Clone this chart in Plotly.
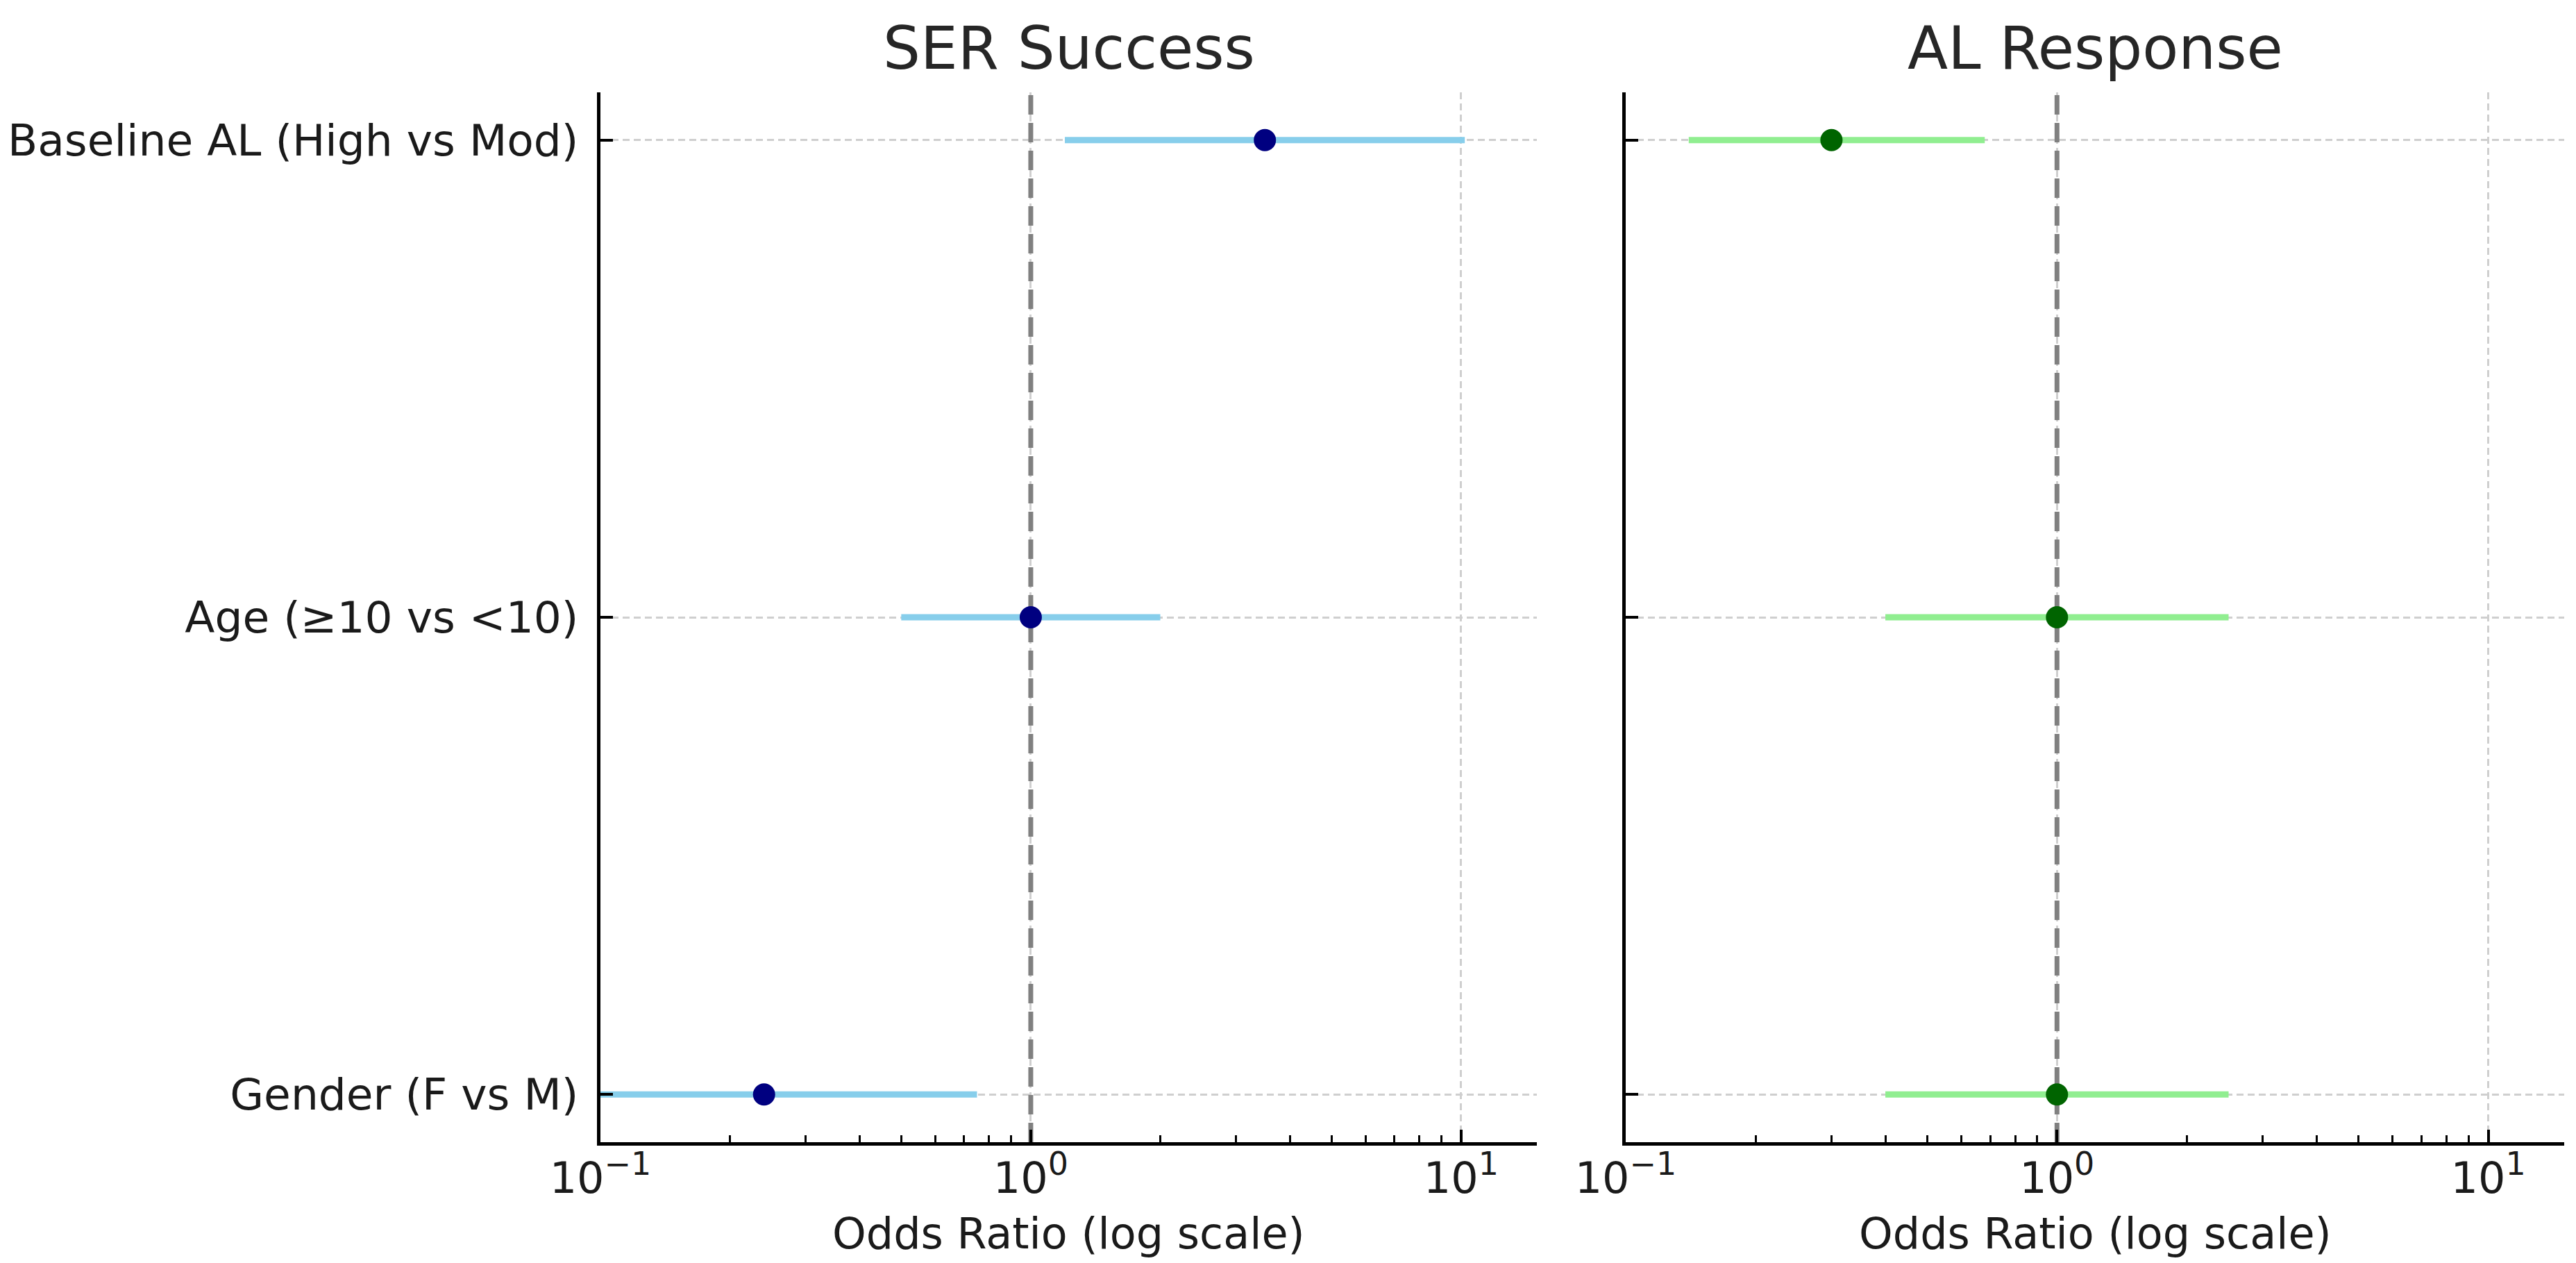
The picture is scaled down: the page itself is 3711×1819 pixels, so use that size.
import math
import plotly.graph_objects as go

# ---------------- data ----------------
categories = ["Gender (F vs M)", "Age (≥10 vs <10)", "Baseline AL (High vs Mod)"]

ser_or = [0.24, 1.0, 3.5]
ser_lo = [0.08, 0.5, 1.2]
ser_hi = [0.75, 2.0, 10.2]

al_or = [1.0, 1.0, 0.3]
al_lo = [0.4, 0.4, 0.14]
al_hi = [2.5, 2.5, 0.68]

panel_titles = ["SER Success", "AL Response"]
x_label = "Odds Ratio (log scale)"
major_ticks = [0.1, 1, 10]
major_exponents = ["−1", "0", "1"]
x_limits = [0.1, 15]
ref_value = 1.0

# ---------------- style ----------------
W, H = 3711, 1819
FONT = "DejaVu Sans"
TXT = "#1a1a1a"
dom1 = [857 / W, 2206 / W]
dom2 = [2334 / W, 3686 / W]
ydom = [182 / H, 1694 / H]

pos = list(range(len(categories)))          # category positions on the y scale
y_limits = [pos[0] - 0.1, pos[-1] + 0.1]
minor_ticks = [m * d for d in (0.1, 1) for m in range(2, 10)]
major_text = [f"10<sup><span style='font-size:46px'>{e}</span></sup>" for e in major_exponents]

fig = go.Figure()


def add_panel(xref, yref, orv, lo, hi, line_col, pt_col):
    # reference line at OR = 1 (drawn first so markers sit on top)
    fig.add_trace(go.Scatter(x=[ref_value, ref_value], y=y_limits, mode="lines",
                             xaxis=xref, yaxis=yref, hoverinfo="skip", showlegend=False,
                             line=dict(color="#808080", width=7, dash="28px,12px")))
    xs, ys = [], []
    for p, a, b in zip(pos, lo, hi):
        xs += [a, b, None]
        ys += [p, p, None]
    fig.add_trace(go.Scatter(x=xs, y=ys, mode="lines", xaxis=xref, yaxis=yref,
                             line=dict(color=line_col, width=9), hoverinfo="skip",
                             showlegend=False))
    fig.add_trace(go.Scatter(x=orv, y=pos, mode="markers", xaxis=xref, yaxis=yref,
                             marker=dict(color=pt_col, size=32), showlegend=False,
                             cliponaxis=True))


add_panel("x", "y", ser_or, ser_lo, ser_hi, "#87CEEB", "#000080")
add_panel("x2", "y2", al_or, al_lo, al_hi, "#90EE90", "#006400")

GRID = dict(showgrid=True, gridcolor="#cfcfcf", gridwidth=3, griddash="10px,6px")

xaxis_common = dict(
    type="log", range=[math.log10(x_limits[0]), math.log10(x_limits[1])],
    tickmode="array", tickvals=major_ticks, ticktext=major_text,
    ticks="inside", ticklen=18, tickwidth=4, tickcolor="black",
    showline=True, linecolor="black", linewidth=5, mirror=False,
    zeroline=False, automargin=False,
    tickfont=dict(family=FONT, size=62, color=TXT),
    ticklabelstandoff=-6,
    minor=dict(tickmode="array", tickvals=minor_ticks, ticks="inside", ticklen=10,
               tickwidth=3, tickcolor="black", showgrid=False),
    **GRID,
)
yaxis_common = dict(
    type="linear", range=y_limits,
    tickmode="array", tickvals=pos,
    ticks="inside", ticklen=18, tickwidth=4, tickcolor="black",
    showline=True, linecolor="black", linewidth=5, mirror=False,
    zeroline=False, automargin=False,
    tickfont=dict(family=FONT, size=63, color=TXT),
    ticklabelstandoff=14,
    **GRID,
)

fig.update_layout(
    width=W, height=H,
    margin=dict(l=0, r=0, t=0, b=0, pad=0),
    paper_bgcolor="white", plot_bgcolor="white",
    font=dict(family=FONT, color=TXT),
    xaxis=dict(domain=dom1, anchor="y", **xaxis_common),
    yaxis=dict(domain=ydom, anchor="x", ticktext=categories, **yaxis_common),
    xaxis2=dict(domain=dom2, anchor="y2", **xaxis_common),
    yaxis2=dict(domain=ydom, anchor="x2", ticktext=categories, showticklabels=False,
                **yaxis_common),
)

for dom, t in zip((dom1, dom2), panel_titles):
    fig.add_annotation(text=t, xref="paper", yref="paper", x=(dom[0] + dom[1]) / 2,
                       y=1 - 61.5 / H, xanchor="center", yanchor="middle", showarrow=False,
                       font=dict(family=FONT, size=85, color="#262626"))
    fig.add_annotation(text=x_label, xref="paper", yref="paper", x=(dom[0] + dom[1]) / 2,
                       y=1 - 1768 / H, xanchor="center", yanchor="middle", showarrow=False,
                       font=dict(family=FONT, size=62, color=TXT))

fig.write_html("out.html")
